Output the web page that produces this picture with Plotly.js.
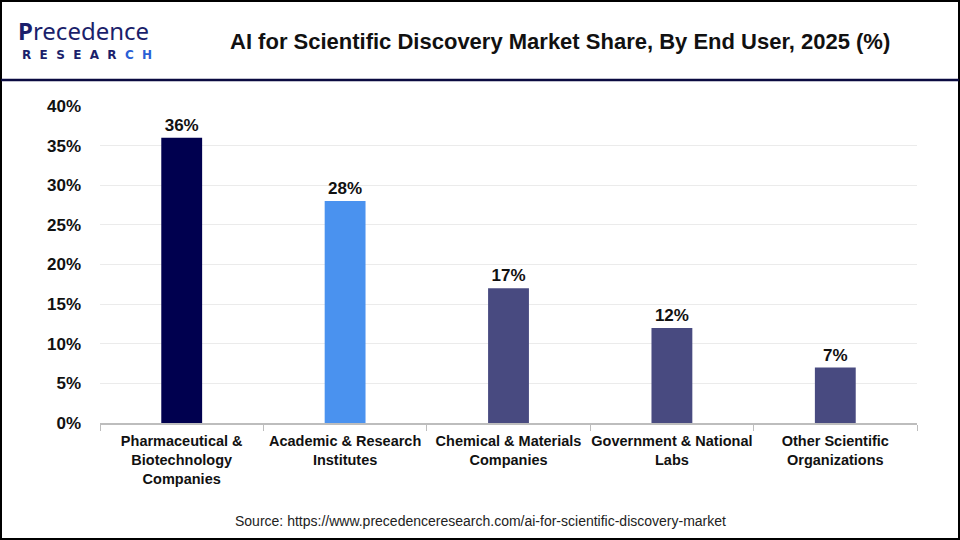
<!DOCTYPE html>
<html>
<head>
<meta charset="utf-8">
<script src="https://cdn.plot.ly/plotly-3.0.1.min.js"></script>
<style>html,body{margin:0;padding:0;background:#fff;}#chart{width:960px;height:540px;}</style>
</head>
<body>
<div id="chart"></div>
<script>
const categories = [
  "Pharmaceutical &<br>Biotechnology<br>Companies",
  "Academic & Research<br>Institutes",
  "Chemical & Materials<br>Companies",
  "Government & National<br>Labs",
  "Other Scientific<br>Organizations"
];
const shares = [36, 28, 17, 12, 7];
const barColors = ["#00004f", "#4a92ef", "#484a80", "#484a80", "#484a80"];
const yTickVals = [0, 5, 10, 15, 20, 25, 30, 35, 40];
const yTickText = ["0%", "5%", "10%", "15%", "20%", "25%", "30%", "35%", "40%"];

const L = 100, R = 43, T = 106, B = 117, W = 960, H = 540;
const pw = W - L - R, ph = H - T - B;
const px = X => (X - L) / pw;
const py = Y => (H - B - Y) / ph;

const trace = {
  type: "bar",
  x: categories,
  y: shares,
  marker: {color: barColors},
  text: shares.map(v => v + "%"),
  textposition: "outside",
  cliponaxis: false,
  textfont: {family: "Liberation Sans, Arial, sans-serif", size: 17, color: "#111", weight: "bold"},
  hoverinfo: "none"
};

const layout = {
  width: W, height: H,
  margin: {l: L, r: R, t: T, b: B},
  paper_bgcolor: "#fff", plot_bgcolor: "#fff",
  showlegend: false,
  bargap: 0.75,
  font: {family: "Liberation Sans, Arial, sans-serif", color: "#111"},
  xaxis: {
    type: "category",
    showline: true, linecolor: "#bdbdbd", linewidth: 2,
    ticks: "outside", tickson: "boundaries", ticklen: 6, tickcolor: "#bdbdbd", tickwidth: 1,
    tickangle: 0, automargin: false, ticklabelstandoff: 4,
    tickfont: {family: "Liberation Sans, Arial, sans-serif", size: 14.5, color: "#111", weight: "bold"},
    showgrid: false
  },
  yaxis: {
    range: [0, 40],
    tickvals: yTickVals, ticktext: yTickText,
    tickfont: {family: "Liberation Sans, Arial, sans-serif", size: 17, color: "#111", weight: "bold"},
    showgrid: true, gridcolor: "#ebebeb", gridwidth: 1,
    zeroline: false, showline: false, automargin: false,
    ticks: "", ticklabelstandoff: 18
  },
  shapes: [
    {type: "rect", xref: "paper", yref: "paper", x0: px(1), x1: px(959), y0: py(539), y1: py(1),
     line: {color: "#000", width: 2}, fillcolor: "rgba(0,0,0,0)", layer: "above"},
    {type: "line", xref: "paper", yref: "paper", x0: px(1), x1: px(959), y0: py(80), y1: py(80),
     line: {color: "#0a0a40", width: 2.5}}
  ],
  annotations: [
    {xref: "paper", yref: "paper", x: px(560), y: py(42), xanchor: "center", yanchor: "middle",
     text: "<b>AI for Scientific Discovery Market Share, By End User, 2025 (%)</b>", showarrow: false,
     font: {family: "Liberation Sans, Arial, sans-serif", size: 22, color: "#111"}},
    {xref: "paper", yref: "paper", x: px(480), y: py(521), xanchor: "center", yanchor: "middle",
     text: "Source: https://www.precedenceresearch.com/ai-for-scientific-discovery-market", showarrow: false,
     font: {family: "Liberation Sans, Arial, sans-serif", size: 14, color: "#222"}},
    {xref: "paper", yref: "paper", x: px(16), y: py(31), xanchor: "left", yanchor: "middle",
     text: "<b>P</b>recedence", showarrow: false,
     font: {family: "Noto Sans, sans-serif", size: 24, color: "#1b1f6b"}},
    {xref: "paper", yref: "paper", x: px(20), y: py(55), xanchor: "left", yanchor: "middle",
     text: "<b>R&nbsp;&nbsp;E&nbsp;&nbsp;S&nbsp;&nbsp;E&nbsp;&nbsp;A&nbsp;&nbsp;R&nbsp;&nbsp;</b><b style='color:#2a5fd6'>C&nbsp;&nbsp;H</b>", showarrow: false,
     font: {family: "DejaVu Sans, sans-serif", size: 12, color: "#1b1f6b"}}
  ]
};

Plotly.newPlot("chart", [trace], layout, {staticPlot: true, displayModeBar: false});
</script>
</body>
</html>
